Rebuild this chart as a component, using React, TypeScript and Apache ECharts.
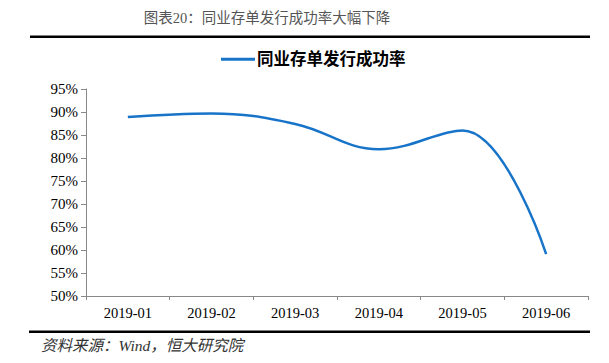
import React, { useEffect, useRef } from "react";
import * as echarts from "echarts";

const categories = ["2019-01", "2019-02", "2019-03", "2019-04", "2019-05", "2019-06"];
const successRate = [88.9, 89.7, 87.4, 81.9, 86.0, 59.1];
const seriesName = "同业存单发行成功率";
const titleText = "图表20：同业存单发行成功率大幅下降";
const sourceText = "资料来源：Wind，恒大研究院";

export default function App() {
  const ref = useRef<HTMLDivElement>(null);
  useEffect(() => {
    if (!ref.current) return;
    const chart = echarts.init(ref.current, null, { renderer: "svg" });
    chart.setOption({
      animation: false,
      backgroundColor: "#fff",
      legend: {
        data: [seriesName],
        top: 46,
        left: 216,
        itemWidth: 34,
        itemHeight: 3,
        itemGap: 2,
        icon: "rect",
        textStyle: {
          fontFamily: "Liberation Serif, Noto Sans CJK SC",
          fontSize: 16.5,
          fontWeight: "bold",
          color: "#000",
          padding: [0, 0, 0, -3],
        },
      },
      graphic: [
        {
          type: "text",
          x: 267,
          y: 18,
          style: {
            text: titleText,
            font: "14.5px 'Liberation Serif', 'Noto Sans CJK SC'",
            fill: "#555",
            textAlign: "center",
            textVerticalAlign: "middle",
          },
        },
        { type: "rect", shape: { x: 30, y: 35.5, width: 560, height: 2.5 }, style: { fill: "#000" } },
        { type: "rect", shape: { x: 29, y: 330.5, width: 561, height: 2.5 }, style: { fill: "#000" } },
        {
          type: "text",
          x: 41,
          y: 338,
          style: {
            text: sourceText,
            font: "italic 15.5px 'Liberation Serif', 'Noto Sans CJK SC'",
            fill: "#333",
          },
        },
      ],
      grid: { left: 86, right: 21, top: 89, bottom: 67 },
      xAxis: {
        type: "category",
        data: categories,
        boundaryGap: true,
        axisLine: { lineStyle: { color: "#888", width: 1 } },
        axisTick: { show: true, length: 4, lineStyle: { color: "#888" } },
        axisLabel: {
          fontFamily: "Liberation Serif",
          fontSize: 14.5,
          color: "#000",
          margin: 9,
        },
      },
      yAxis: {
        type: "value",
        min: 50,
        max: 95,
        interval: 5,
        splitLine: { show: false },
        axisLine: { show: true, lineStyle: { color: "#888", width: 1 } },
        axisTick: { show: true, length: 5, lineStyle: { color: "#888" } },
        axisLabel: {
          fontFamily: "Liberation Serif",
          fontSize: 15,
          color: "#000",
          margin: 8,
          formatter: (v: number) => v + "%",
        },
      },
      series: [
        {
          name: seriesName,
          type: "line",
          data: successRate,
          smooth: 0.4,
          showSymbol: false,
          symbol: "none",
          lineStyle: { color: "#1874C8", width: 2.5 },
          itemStyle: { color: "#1874C8" },
        },
      ],
    });
    return () => chart.dispose();
  }, []);
  return <div ref={ref} style={{ width: 609, height: 363, position: "absolute", left: 0, top: 0 }} />;
}
